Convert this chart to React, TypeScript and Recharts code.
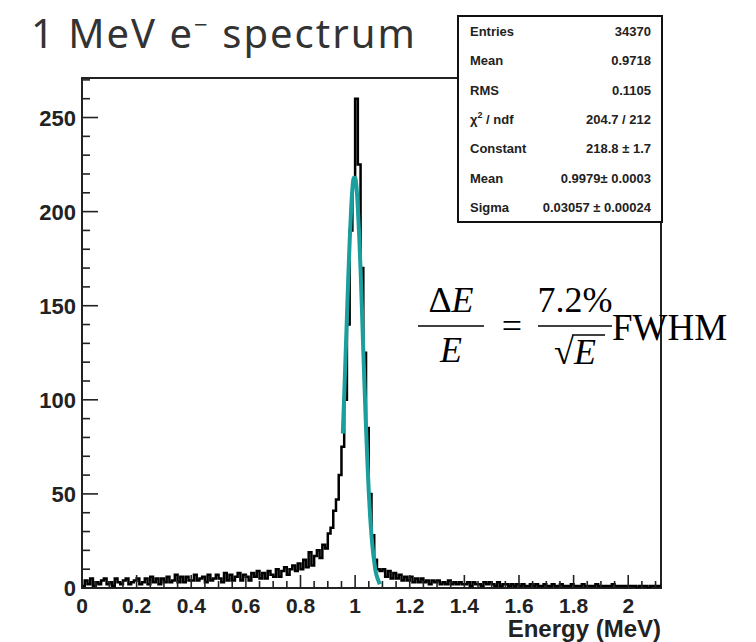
import React from "react";
import { ComposedChart, Line, XAxis, YAxis, ReferenceArea } from "recharts";

// histogram of energy deposits, bins of 0.01 MeV starting at 0
const binWidth = 0.01;
const counts = [
  1, 4, 2, 5, 1, 3, 2, 4, 5, 2,
  3, 1, 5, 3, 2, 4, 5, 2, 3, 4,
  5, 2, 3, 5, 2, 6, 3, 5, 2, 5,
  3, 6, 3, 4, 7, 3, 6, 3, 6, 4,
  4, 7, 4, 5, 6, 3, 7, 4, 5, 7,
  5, 3, 8, 4, 7, 4, 6, 8, 4, 7,
  6, 4, 8, 6, 9, 5, 8, 5, 9, 7,
  6, 10, 6, 9, 11, 7, 10, 12, 9, 13,
  10, 15, 11, 19, 12, 17, 20, 16, 23, 21,
  29, 32, 41, 47,
  60, 75, 100, 140, 190, 215, 260, 225, 170, 125, 85, 50, 28, 15, 10, 9,
  10, 6, 9, 5, 8, 5, 7, 4, 6, 4,
  6, 3, 5, 3, 5, 3, 4, 2, 4, 3,
  4, 2, 3, 2, 4, 2, 3, 2, 3, 2,
  2, 3, 1, 3, 2, 2, 1, 3, 2, 3,
  2, 1, 3, 1, 2, 2, 1, 2, 1, 2,
  1, 2, 1, 1, 2, 1, 2, 1, 1, 2,
  1, 1, 2, 1, 1, 2, 1, 1, 1, 2,
  1, 1, 1, 2, 1, 1, 1, 1, 2, 1,
  1, 1, 1, 1, 2, 1, 1, 1, 1, 1,
  1, 1, 1, 0, 1, 1, 1, 0, 1, 1, 1, 1,
];

// gaussian fit curve as drawn
const fitEnergy = [
  0.955, 0.96, 0.965, 0.97, 0.975, 0.98, 0.985, 0.99, 0.995, 1.0, 1.005, 1.01, 1.015, 1.02,
  1.025, 1.03, 1.035, 1.04, 1.045, 1.05, 1.055, 1.06, 1.065, 1.07, 1.075, 1.08, 1.085, 1.09,
];
const fitValues = [
  82, 102, 123, 144, 165, 184, 200, 212, 218, 218, 213, 202, 187, 169,
  148, 126, 105, 85, 67, 51, 38, 28, 20, 14, 9, 6, 4, 2,
];

const xTicks = [
  0, 0.05, 0.1, 0.15, 0.2, 0.25, 0.3, 0.35, 0.4, 0.45, 0.5, 0.55, 0.6, 0.65, 0.7, 0.75, 0.8,
  0.85, 0.9, 0.95, 1, 1.05, 1.1, 1.15, 1.2, 1.25, 1.3, 1.35, 1.4, 1.45, 1.5, 1.55, 1.6, 1.65,
  1.7, 1.75, 1.8, 1.85, 1.9, 1.95, 2, 2.05, 2.1,
];
const yTicks = [0, 10, 20, 30, 40, 50, 60, 70, 80, 90, 100, 110, 120, 130, 140, 150, 160, 170, 180, 190, 200, 210, 220, 230, 240, 250, 260, 270];

const statNames = ["Entries", "Mean", "RMS", "chi2", "Constant", "Mean", "Sigma"];
const statValues = ["34370", "0.9718", "0.1105", "204.7 / 212", "218.8 \u00b1 1.7", "0.9979\u00b1 0.0003", "0.03057 \u00b1 0.00024"];

const histData = counts
  .map((n, i) => ({ e: +(i * binWidth).toFixed(2), n }))
  .concat([{ e: +(counts.length * binWidth).toFixed(2), n: counts[counts.length - 1] }]);
const fitData = fitEnergy.map((e, i) => ({ e, f: fitValues[i] }));

const axisFont = "'Liberation Sans', Arial, sans-serif";
const ink = "#222";

function XTick({ x, y, payload }: any) {
  const v = payload.value;
  const major = Math.abs(v * 5 - Math.round(v * 5)) < 1e-6;
  return (
    <g>
      <line x1={x} x2={x} y1={y} y2={y - (major ? 13 : 7)} stroke={ink} strokeWidth={1.6} />
      {major && (
        <text x={x} y={y + 25} textAnchor="middle" fontFamily={axisFont} fontWeight="bold" fontSize={21} fill={ink}>
          {String(Math.round(v * 10) / 10)}
        </text>
      )}
    </g>
  );
}

function YTick({ x, y, payload }: any) {
  const v = payload.value;
  const major = v % 50 === 0;
  return (
    <g>
      <line x1={x} x2={x + (major ? 16 : 8)} y1={y} y2={y} stroke={ink} strokeWidth={1.6} />
      {major && (
        <text x={x - 6} y={y + 8} textAnchor="end" fontFamily={axisFont} fontWeight="bold" fontSize={22} fill={ink}>
          {v}
        </text>
      )}
    </g>
  );
}

function StatsBox() {
  const top = 16;
  const h = 206 / 7;
  return (
    <g fontFamily={axisFont} fontWeight="bold" fontSize={13} fill={ink}>
      <rect x={458} y={top} width={204} height={206} fill="#fff" stroke="#111" strokeWidth={2} />
      {statNames.map((name, i) => (
        <g key={i}>
          <text x={470} y={top + h * i + h / 2 + 5}>
            {name === "chi2" ? (
              <>
                χ<tspan dy={-6} fontSize={9}>2</tspan>
                <tspan dy={6}> / ndf</tspan>
              </>
            ) : (
              name
            )}
          </text>
          <text x={651} y={top + h * i + h / 2 + 5} textAnchor="end">
            {statValues[i]}
          </text>
        </g>
      ))}
    </g>
  );
}

function Formula() {
  const serif = "'Liberation Serif', 'Times New Roman', serif";
  return (
    <g fontFamily={serif} fontSize={36} fill="#000">
      <text x={451} y={312} textAnchor="middle">
        Δ<tspan fontStyle="italic">E</tspan>
      </text>
      <line x1={418} x2={484} y1={326} y2={326} stroke="#000" strokeWidth={1.7} />
      <text x={451} y={362} textAnchor="middle" fontStyle="italic">
        E
      </text>
      <text x={512} y={338} textAnchor="middle">
        =
      </text>
      <text x={575} y={312} textAnchor="middle">
        7.2%
      </text>
      <line x1={538} x2={612} y1={326} y2={326} stroke="#000" strokeWidth={1.7} />
      <text x={575} y={364} textAnchor="middle">
        √<tspan fontStyle="italic">E</tspan>
      </text>
      <line x1={572} x2={605} y1={335} y2={335} stroke="#000" strokeWidth={1.6} />
      <text x={612} y={340} fontSize={37}>
        FWHM
      </text>
    </g>
  );
}

export default function App() {
  return (
    <div style={{ position: "absolute", left: 0, top: 0, width: 756, height: 642, background: "#fff" }}>
      <ComposedChart width={756} height={642} margin={{ top: 78, right: 95, bottom: 5, left: 0 }}>
        <XAxis
          dataKey="e"
          type="number"
          domain={[0, 2.12]}
          ticks={xTicks}
          interval={0}
          allowDataOverflow
          height={49}
          axisLine={false}
          tickLine={false}
          tickSize={0}
          tickMargin={0}
          tick={<XTick />}
          label={{ value: "Energy (MeV)", position: "insideBottomRight", offset: 0, fill: ink, fontSize: 24, fontWeight: "bold", fontFamily: axisFont }}
        />
        <YAxis
          type="number"
          domain={[0, 271]}
          ticks={yTicks}
          interval={0}
          allowDataOverflow
          width={82}
          axisLine={false}
          tickLine={false}
          tickSize={0}
          tickMargin={0}
          tick={<YTick />}
        />
        <ReferenceArea x1={0} x2={2.12} y1={0} y2={271} fill="none" stroke={ink} strokeWidth={2} />
        <Line data={histData} dataKey="n" type="stepAfter" stroke="#000" strokeWidth={2.5} dot={false} isAnimationActive={false} />
        <Line data={fitData} dataKey="f" type="monotone" stroke="#1a9e9e" strokeWidth={4} dot={false} isAnimationActive={false} />
      </ComposedChart>
      <svg width={756} height={642} style={{ position: "absolute", left: 0, top: 0, pointerEvents: "none" }}>
        <text x={31} y={48} fontFamily="'Noto Sans', sans-serif" fontSize={40} letterSpacing={2} fill="#333">
          1 MeV e<tspan dy={-15} fontSize={24}>−</tspan>
          <tspan dy={15}> spectrum</tspan>
        </text>
        <StatsBox />
        <Formula />
      </svg>
    </div>
  );
}
